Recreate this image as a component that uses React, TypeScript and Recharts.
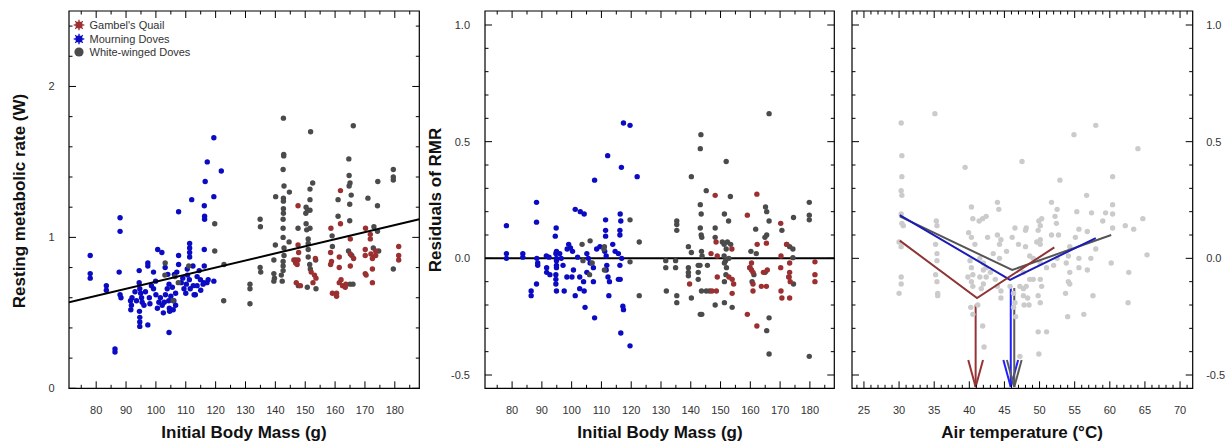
import React from "react";
import { ScatterChart, Scatter, XAxis, YAxis, ReferenceLine, ReferenceArea } from "recharts";

// ---- panel 1: resting metabolic rate (W) vs initial body mass (g)
const rmrMourning: [number, number][] = [
  [119.4, 1.66], [117.2, 1.5], [121.9, 1.44], [116.5, 1.37], [119.4, 1.27], [112.0, 1.25], [107.6, 1.17],
  [116.2, 1.21], [116.3, 1.14], [116.3, 1.12], [88.0, 1.13], [88.0, 1.04], [100.6, 0.92], [102.0, 0.9],
  [78.0, 0.88], [78.0, 0.76], [78.0, 0.73], [107.6, 0.88], [111.3, 0.96], [111.3, 0.93], [111.3, 0.9],
  [111.3, 0.87], [116.2, 0.92], [97.3, 0.83], [97.3, 0.81], [103.1, 0.8], [87.7, 0.77], [94.4, 0.78],
  [99.2, 0.77], [107.6, 0.82], [112.4, 0.81], [116.2, 0.81], [83.4, 0.68], [83.4, 0.65], [88.0, 0.62],
  [88.3, 0.6], [91.5, 0.58], [91.8, 0.55], [91.6, 0.52], [94.4, 0.7], [94.6, 0.66], [94.9, 0.63],
  [95.2, 0.6], [95.4, 0.57], [94.5, 0.51], [94.6, 0.47], [94.6, 0.44], [94.6, 0.41], [97.3, 0.42],
  [99.9, 0.71], [99.2, 0.66], [100.0, 0.62], [101.0, 0.57], [102.1, 0.55], [103.2, 0.62], [104.3, 0.58],
  [104.5, 0.53], [104.6, 0.51], [104.4, 0.37], [86.3, 0.26], [86.3, 0.24], [104.0, 0.755], [106.2, 0.755],
  [104.4, 0.69], [105.5, 0.67], [106.6, 0.63], [106.6, 0.55], [109.4, 0.66], [110.0, 0.63], [110.6, 0.75],
  [111.2, 0.72], [112.5, 0.68], [113.8, 0.74], [114.9, 0.72], [116.0, 0.7], [117.1, 0.7], [113.2, 0.62],
  [119.4, 0.71], [96.5, 0.64], [97.8, 0.6], [98.5, 0.68], [101.5, 0.6], [102.8, 0.57], [103.8, 0.66],
  [105.0, 0.61], [106.0, 0.58], [108.5, 0.7], [110.2, 0.69], [111.5, 0.66], [113.8, 0.68], [115.0, 0.65],
  [115.8, 0.69], [117.5, 0.72], [114.5, 0.78], [110.5, 0.79], [92.0, 0.6], [93.0, 0.64], [96.0, 0.55],
  [98.0, 0.56], [100.5, 0.53], [102.5, 0.5], [93.5, 0.58], [107.0, 0.77], [109.0, 0.73], [105.8, 0.52],
  [112.8, 0.62],
];
const rmrWhiteWinged: [number, number][] = [
  [119.7, 1.09], [119.7, 0.91], [103.1, 0.83], [111.0, 0.81], [122.8, 0.82], [103.0, 0.75], [106.4, 0.74],
  [107.5, 0.7], [105.8, 0.58], [122.7, 0.58], [142.7, 1.79], [166.1, 1.74], [151.8, 1.7], [142.8, 1.55],
  [142.8, 1.54], [164.6, 1.52], [142.6, 1.45], [179.5, 1.45], [179.5, 1.4], [179.5, 1.38], [164.7, 1.41],
  [165.0, 1.36], [164.7, 1.34], [152.5, 1.36], [151.6, 1.32], [142.9, 1.34], [144.7, 1.3], [140.1, 1.27],
  [174.3, 1.37], [142.7, 1.26], [142.7, 1.24], [165.4, 1.28], [161.0, 1.25], [151.6, 1.25], [164.9, 1.22],
  [171.0, 1.26], [174.2, 1.21], [142.7, 1.19], [142.7, 1.16], [150.3, 1.2], [150.8, 1.18], [150.2, 1.16],
  [151.6, 1.18], [134.9, 1.12], [135.0, 1.07], [142.6, 1.12], [142.6, 1.06], [147.6, 1.06], [150.3, 1.09],
  [150.5, 1.05], [151.6, 1.06], [161.0, 1.14], [164.9, 1.11], [173.0, 1.07], [174.2, 1.04], [142.6, 1.0],
  [140.0, 0.95], [144.6, 0.97], [159.0, 1.01], [151.0, 0.99], [151.0, 0.96], [151.0, 0.92], [151.0, 0.87],
  [142.9, 0.93], [142.9, 0.88], [142.6, 0.84], [142.6, 0.81], [142.6, 0.78], [142.0, 0.75], [139.5, 0.85],
  [146.8, 0.85], [151.5, 0.82], [151.7, 0.79], [153.5, 0.85], [159.1, 0.94], [164.5, 0.91], [165.6, 0.88],
  [172.8, 0.93], [174.6, 0.91], [179.5, 0.79], [134.9, 0.8], [135.1, 0.77], [139.5, 0.76], [139.7, 0.73],
  [139.5, 0.71], [142.3, 0.71], [147.7, 0.68], [150.7, 0.67], [153.6, 0.66], [165.0, 0.69], [166.0, 0.69],
  [131.5, 0.69], [131.5, 0.66], [131.5, 0.56],
];
const rmrQuail: [number, number][] = [
  [161.8, 1.31], [147.6, 1.21], [161.8, 1.09], [158.6, 1.06], [170.2, 1.06], [171.8, 1.02], [171.8, 0.99],
  [147.6, 0.95], [147.8, 0.9], [147.6, 0.85], [153.4, 0.86], [158.5, 0.9], [158.8, 0.84], [158.5, 0.82],
  [161.4, 0.87], [165.1, 0.99], [165.1, 0.89], [166.2, 0.86], [165.1, 0.81], [170.1, 0.92], [170.1, 0.88],
  [172.0, 0.89], [172.5, 0.86], [172.5, 0.79], [173.6, 0.91], [173.6, 0.88], [181.3, 0.94], [181.3, 0.88],
  [181.3, 0.85], [146.2, 0.85], [146.8, 0.83], [147.3, 0.82], [147.0, 0.7], [148.4, 0.68], [152.0, 0.77],
  [153.1, 0.75], [153.6, 0.73], [152.6, 0.7], [161.4, 0.8], [162.0, 0.72], [161.4, 0.7], [162.5, 0.68],
  [163.6, 0.69], [163.4, 0.67], [159.1, 0.63], [160.5, 0.63], [160.5, 0.61], [170.1, 0.76], [170.4, 0.75],
  [172.5, 0.7],
];
const rmrFit: [number, number][] = [[70.9, 0.57], [188.2, 1.12]];

// ---- panel 2: residuals of RMR vs initial body mass (g)
const resMourning: [number, number][] = [
  [117.4, 0.58], [119.6, 0.57], [112.1, 0.44], [116.7, 0.39], [122.0, 0.35], [107.7, 0.335], [88.2, 0.24],
  [88.2, 0.155], [78.1, 0.14], [101.2, 0.21], [102.9, 0.2], [104.2, 0.19], [94.8, 0.13], [94.5, 0.095],
  [111.4, 0.165], [111.4, 0.12], [111.4, 0.095], [116.3, 0.19], [116.5, 0.16], [116.2, 0.12], [116.2, 0.1],
  [99.0, 0.06], [99.6, 0.045], [98.5, 0.04], [78.1, 0.02], [78.1, 0.0], [83.6, 0.02], [83.6, 0.005],
  [88.3, 0.0], [88.6, -0.02], [88.6, -0.03], [91.5, 0.01], [92.4, 0.005], [94.9, 0.03], [94.7, 0.02],
  [94.9, 0.0], [94.9, -0.01], [94.9, -0.03], [94.9, -0.04], [96.0, 0.02], [96.5, 0.0], [97.1, -0.03],
  [91.6, -0.04], [91.6, -0.06], [92.7, -0.07], [94.7, -0.07], [94.7, -0.09], [94.7, -0.11], [94.9, -0.14],
  [97.5, -0.14], [98.4, -0.08], [100.1, -0.08], [100.6, -0.05], [101.2, -0.16], [102.7, -0.13], [104.2, -0.14],
  [102.7, -0.08], [104.0, -0.1], [105.1, -0.06], [104.5, -0.21], [107.7, -0.255], [86.4, -0.14], [86.4, -0.16],
  [88.2, -0.11], [105.1, 0.02], [105.6, 0.0], [106.2, -0.02], [107.3, -0.04], [107.3, -0.1], [108.4, 0.04],
  [109.5, 0.05], [111.1, 0.03], [111.6, 0.01], [111.8, -0.03], [111.6, -0.05], [112.2, -0.08], [112.7, -0.1],
  [112.5, -0.16], [113.8, 0.06], [114.6, 0.03], [115.7, 0.02], [116.8, 0.0], [116.2, -0.03], [115.7, -0.09],
  [116.3, -0.09], [117.2, -0.205], [117.4, -0.22], [116.5, -0.32], [119.6, -0.375], [100.3, 0.03], [102.0, 0.005],
];
const resWhiteWinged: [number, number][] = [
  [119.6, 0.165], [106.2, 0.075], [103.5, 0.06], [111.0, 0.05], [110.8, 0.04], [106.9, -0.02], [106.0, -0.07],
  [111.0, -0.05], [119.6, -0.015], [122.7, 0.07], [122.7, -0.16], [103.8, -0.01], [166.3, 0.62], [143.4, 0.53],
  [143.2, 0.47], [151.9, 0.415], [140.2, 0.35], [145.2, 0.29], [153.3, 0.265], [179.8, 0.24], [179.8, 0.185],
  [179.8, 0.165], [143.2, 0.23], [143.5, 0.19], [151.3, 0.19], [152.7, 0.16], [165.1, 0.22], [165.5, 0.2],
  [166.3, 0.16], [174.5, 0.175], [135.3, 0.16], [135.3, 0.145], [135.3, 0.12], [143.2, 0.13], [143.5, 0.1],
  [143.7, 0.09], [148.2, 0.13], [148.2, 0.09], [161.8, 0.125], [170.6, 0.12], [165.5, 0.1], [164.9, 0.09],
  [150.6, 0.07], [151.2, 0.06], [152.3, 0.07], [153.4, 0.06], [151.9, 0.04], [151.2, 0.01], [151.7, -0.01],
  [152.8, 0.0], [139.2, 0.05], [140.2, 0.025], [143.6, 0.03], [143.8, 0.01], [160.2, 0.03], [162.0, 0.02],
  [172.2, 0.06], [173.2, 0.05], [174.3, 0.04], [174.3, 0.003], [131.6, -0.01], [131.6, -0.04], [134.9, -0.01],
  [134.9, -0.04], [139.2, -0.04], [139.2, -0.06], [139.2, -0.075], [142.5, -0.03], [143.1, -0.03], [145.6, -0.03],
  [142.5, -0.06], [142.5, -0.09], [151.3, -0.02], [152.0, -0.04], [151.8, -0.07], [151.3, -0.1], [159.9, -0.04],
  [161.2, -0.07], [160.6, -0.1], [165.0, -0.06], [173.0, -0.08], [174.5, -0.11], [131.8, -0.14], [135.3, -0.16],
  [135.3, -0.19], [140.2, -0.17], [143.6, -0.14], [145.2, -0.14], [146.3, -0.14], [148.2, -0.2], [151.3, -0.19],
  [153.9, -0.21], [143.2, -0.24], [143.7, -0.24], [166.3, -0.255], [165.5, -0.31], [166.3, -0.41], [179.8, -0.42],
];
const resQuail: [number, number][] = [
  [148.2, 0.27], [162.2, 0.275], [159.0, 0.185], [170.2, 0.15], [148.5, 0.07], [162.3, 0.06], [165.4, 0.065],
  [153.8, 0.04], [146.8, 0.02], [148.9, 0.01], [172.2, 0.06], [170.3, 0.01], [181.7, -0.015], [181.7, -0.07],
  [181.7, -0.1], [160.4, -0.02], [159.8, -0.04], [160.4, -0.05], [160.9, -0.06], [164.4, -0.06], [165.7, -0.05],
  [170.2, -0.04], [173.2, -0.02], [173.2, -0.06], [172.9, -0.08], [173.4, -0.1], [148.9, -0.08], [152.8, -0.08],
  [153.9, -0.09], [154.4, -0.11], [139.6, -0.11], [147.1, -0.14], [148.6, -0.14], [153.9, -0.15], [160.9, -0.11],
  [163.7, -0.12], [165.4, -0.12], [160.9, -0.14], [170.3, -0.14], [170.6, -0.17], [173.2, -0.17], [159.0, -0.24],
  [162.2, -0.29],
];

// ---- panel 3: residuals vs air temperature (°C)
const tempResiduals: [number, number][] = [
  [35.1, 0.62], [30.3, 0.58], [30.4, 0.44], [39.4, 0.39], [30.4, 0.35], [47.5, 0.415], [30.3, 0.29], [30.4, 0.27],
  [30.3, 0.19], [30.4, 0.15], [30.6, 0.14], [30.0, 0.07], [30.3, 0.05], [30.3, -0.08], [30.3, -0.11], [30.0, -0.15],
  [35.3, 0.16], [35.4, 0.14], [35.2, 0.06], [35.4, 0.02], [35.4, -0.01], [35.2, -0.07], [35.4, -0.1], [35.5, -0.15],
  [35.5, -0.16], [40.3, 0.22], [40.5, 0.17], [41.4, 0.16], [42.4, 0.18], [41.9, 0.17], [44.0, 0.24], [44.2, 0.21],
  [39.9, 0.11], [40.3, 0.09], [40.8, 0.06], [42.6, 0.09], [44.0, 0.1], [44.5, 0.08], [44.3, 0.06], [46.5, 0.13],
  [48.0, 0.12], [46.1, 0.09], [47.0, 0.06], [48.0, 0.05], [40.1, -0.01], [40.3, -0.04], [40.5, -0.07], [39.8, -0.08],
  [40.3, -0.1], [40.5, -0.12], [41.5, 0.0], [42.0, -0.02], [42.4, -0.04], [42.0, -0.05], [41.5, -0.08], [42.4, -0.08],
  [42.0, -0.11], [41.7, -0.13], [43.4, 0.02], [44.3, 0.0], [45.3, 0.03], [43.0, -0.06], [43.7, -0.09], [44.0, -0.12],
  [44.5, -0.14], [44.5, -0.17], [45.8, -0.12], [46.3, -0.15], [47.2, -0.12], [47.7, -0.16], [48.1, -0.12],
  [40.2, -0.21], [40.5, -0.24], [41.2, -0.2], [41.9, -0.29], [42.1, -0.38], [46.5, -0.19], [46.3, -0.21],
  [46.6, -0.25], [47.8, -0.2], [48.3, -0.17], [47.2, -0.42], [58.0, 0.57], [54.9, 0.53], [64.0, 0.47],
  [52.9, 0.335], [60.4, 0.35], [51.7, 0.24], [56.7, 0.27], [52.5, 0.21], [52.2, 0.18], [52.4, 0.15], [55.3, 0.2],
  [57.4, 0.195], [59.0, 0.16], [59.4, 0.195], [60.4, 0.19], [60.4, 0.23], [62.2, 0.14], [63.4, 0.125], [64.7, 0.17],
  [65.3, 0.015], [60.4, 0.13], [50.3, 0.17], [49.9, 0.16], [50.1, 0.14], [48.1, 0.13], [49.8, 0.12], [50.1, 0.08],
  [49.6, 0.07], [50.1, 0.06], [51.7, 0.1], [52.7, 0.1], [55.6, 0.125], [56.8, 0.115], [55.1, 0.09], [54.3, 0.05],
  [54.1, 0.01], [53.8, -0.02], [55.6, 0.0], [57.3, 0.0], [58.0, 0.04], [56.8, -0.05], [60.2, -0.02], [48.6, 0.01],
  [49.1, 0.0], [50.1, -0.02], [51.0, -0.04], [52.0, -0.03], [52.5, 0.0], [47.7, -0.06], [48.6, -0.09], [50.1, -0.09],
  [47.7, -0.13], [49.1, -0.09], [50.3, -0.12], [49.8, -0.16], [50.1, -0.19], [48.5, -0.2], [54.3, -0.06],
  [54.1, -0.1], [54.3, -0.11], [53.7, -0.15], [55.6, -0.04], [62.7, -0.06], [57.6, -0.16], [62.6, -0.19],
  [56.3, -0.24], [54.0, -0.25], [49.8, -0.315], [51.0, -0.315], [49.9, -0.41],
];
const quailBreak: [number, number][] = [[30.1, 0.076], [41.1, -0.17], [52.1, 0.047]];
const mourningBreak: [number, number][] = [[30.1, 0.185], [45.8, -0.092], [58.0, 0.087]];
const whiteWingedBreak: [number, number][] = [[30.1, 0.18], [46.1, -0.05], [60.2, 0.1]];
// arrows: temperature, residual where the arrow starts, residual of the tip
const arrowTemps = [40.9, 45.9, 46.4];
const arrowStarts = [-0.198, -0.127, -0.127];
const arrowTip = -0.551;

// ---- axes
const massTicks = [75, 80, 85, 90, 95, 100, 105, 110, 115, 120, 125, 130, 135, 140, 145, 150, 155, 160, 165, 170, 175, 180, 185];
const massLabels = [80, 90, 100, 110, 120, 130, 140, 150, 160, 170, 180];
const rmrTicks = [0, 0.2, 0.4, 0.6, 0.8, 1, 1.2, 1.4, 1.6, 1.8, 2, 2.2, 2.4];
const rmrLabels = [0, 1, 2];
const resTicks = [-0.5, -0.4, -0.3, -0.2, -0.1, 0, 0.1, 0.2, 0.3, 0.4, 0.5, 0.6, 0.7, 0.8, 0.9, 1.0];
const resLabels = [-0.5, 0, 0.5, 1.0];
const tempTicks = [24, 25, 26, 27, 28, 29, 30, 31, 32, 33, 34, 35, 36, 37, 38, 39, 40, 41, 42, 43, 44, 45, 46, 47, 48, 49, 50, 51, 52, 53, 54, 55, 56, 57, 58, 59, 60, 61, 62, 63, 64, 65, 66, 67, 68, 69, 70, 71];
const tempLabels = [25, 30, 35, 40, 45, 50, 55, 60, 65, 70];

const massDomain = [70.9, 188.2];
const rmrDomain = [0, 2.5];
const resDomain = [-0.557, 1.06];
const tempDomain = [23.3, 71.8];

const FONT = '"Liberation Sans", Arial, Helvetica, sans-serif';
const QUAIL = "#9c2f2f";
const MOURNING = "#0b0bc4";
const WHITE = "#4b4b4b";
const LIGHT = "#cbcbcb";

const toXY = (arr: [number, number][]) => arr.map(([x, y]) => ({ x, y }));
const isIn = (list: number[], v: number) => list.some((m) => Math.abs(m - v) < 1e-6);

const dot = (color: string) => (p: any) => <circle cx={p.cx} cy={p.cy} r={2.7} fill={color} />;
const noDot = () => <g />;

function bottomTick(p: any, labels: number[], top: number, fmt: (v: number) => string) {
  const { x, y, payload } = p;
  const major = isIn(labels, payload.value);
  const len = major ? 7 : 3.5;
  return (
    <g>
      <line x1={x} x2={x} y1={y} y2={y - len} stroke="#000" />
      <line x1={x} x2={x} y1={top} y2={top + len} stroke="#000" />
      {major && (
        <text x={x} y={y + 26} textAnchor="middle" fontSize={11} fill="#333" fontFamily={FONT}>
          {fmt(payload.value)}
        </text>
      )}
    </g>
  );
}

function sideTick(p: any, labels: number[], other: number, side: "left" | "right", gap: number, fmt: (v: number) => string) {
  const { x, y, payload } = p;
  const major = isIn(labels, payload.value);
  const len = major ? 7 : 3.5;
  const dir = side === "left" ? 1 : -1;
  return (
    <g>
      <line x1={x} x2={x + dir * len} y1={y} y2={y} stroke="#000" />
      <line x1={other} x2={other - dir * len} y1={y} y2={y} stroke="#000" />
      {major && (
        <text
          x={x - dir * gap}
          y={y + 4}
          textAnchor={side === "left" ? "end" : "start"}
          fontSize={11}
          fill="#333"
          fontFamily={FONT}
        >
          {fmt(payload.value)}
        </text>
      )}
    </g>
  );
}

const titleStyle: React.CSSProperties = {
  position: "absolute",
  fontFamily: FONT,
  fontWeight: 700,
  fontSize: 17,
  color: "#111",
  whiteSpace: "nowrap",
  transform: "translate(-50%, -50%)",
};

const Marker = ({ color, star }: { color: string; star: boolean }) => (
  <svg width={12} height={12} style={{ display: "block", marginRight: 5 }}>
    {star &&
      [0, 45, 90, 135].map((a) => {
        const c = Math.cos((a * Math.PI) / 180) * 5.3;
        const s = Math.sin((a * Math.PI) / 180) * 5.3;
        return <line key={a} x1={6 - c} y1={6 - s} x2={6 + c} y2={6 + s} stroke={color} strokeWidth={1.3} />;
      })}
    <circle cx={6} cy={6} r={star ? 3.6 : 4.6} fill={color} />
  </svg>
);

const legendRows = [
  { name: "Gambel's Quail", color: QUAIL, star: true },
  { name: "Mourning Doves", color: MOURNING, star: true },
  { name: "White-winged Doves", color: WHITE, star: false },
];

export default function App() {
  const fmtInt = (v: number) => String(v);
  const fmtOne = (v: number) => v.toFixed(1);

  return (
    <div style={{ position: "absolute", left: 0, top: 0, width: 1231, height: 447, background: "#fff", overflow: "hidden" }}>
      {/* panel 1 */}
      <div style={{ position: "absolute", left: 0, top: 0 }}>
        <ScatterChart width={425} height={447} margin={{ top: 11, right: 5.7, bottom: 28.7, left: 29 }}>
          <XAxis
            type="number" dataKey="x" domain={massDomain} ticks={massTicks} interval={0} allowDataOverflow
            height={30} tickSize={0} tickMargin={0} axisLine={false} tickLine={false}
            tick={(p: any) => bottomTick(p, massLabels, 11, fmtInt)}
          />
          <YAxis
            type="number" dataKey="y" domain={rmrDomain} ticks={rmrTicks} interval={0} allowDataOverflow
            width={40} tickSize={0} tickMargin={0} axisLine={false} tickLine={false}
            tick={(p: any) => sideTick(p, rmrLabels, 419.3, "left", 14.5, fmtInt)}
          />
          <ReferenceArea x1={massDomain[0]} x2={massDomain[1]} y1={rmrDomain[0]} y2={rmrDomain[1]} fill="none" fillOpacity={0} stroke="#000" strokeWidth={1.2} />
          <Scatter data={toXY(rmrMourning)} shape={dot(MOURNING)} isAnimationActive={false} />
          <Scatter data={toXY(rmrWhiteWinged)} shape={dot(WHITE)} isAnimationActive={false} />
          <Scatter data={toXY(rmrQuail)} shape={dot(QUAIL)} isAnimationActive={false} />
          <Scatter data={toXY(rmrFit)} shape={noDot} line={{ stroke: "#000", strokeWidth: 2 }} isAnimationActive={false} />
        </ScatterChart>
      </div>
      {legendRows.map((r, i) => (
        <div
          key={r.name}
          style={{
            position: "absolute", left: 72.5, top: 18 + i * 13.7, height: 14, display: "flex", alignItems: "center",
            fontFamily: FONT, fontSize: 11, color: "#333", whiteSpace: "nowrap",
          }}
        >
          <Marker color={r.color} star={r.star} />
          {r.name}
        </div>
      ))}
      <div style={{ ...titleStyle, left: 244, top: 433 }}>Initial Body Mass (g)</div>
      <div style={{ ...titleStyle, left: 20, top: 201, transform: "translate(-50%, -50%) rotate(-90deg)" }}>
        Resting metabolic rate (W)
      </div>

      {/* panel 2 */}
      <div style={{ position: "absolute", left: 425, top: 0 }}>
        <ScatterChart width={415} height={447} margin={{ top: 11, right: 5.7, bottom: 28.7, left: 20 }}>
          <XAxis
            type="number" dataKey="x" domain={massDomain} ticks={massTicks} interval={0} allowDataOverflow
            height={30} tickSize={0} tickMargin={0} axisLine={false} tickLine={false}
            tick={(p: any) => bottomTick(p, massLabels, 11, fmtInt)}
          />
          <YAxis
            type="number" dataKey="y" domain={resDomain} ticks={resTicks} interval={0} allowDataOverflow
            width={40} tickSize={0} tickMargin={0} axisLine={false} tickLine={false}
            tick={(p: any) => sideTick(p, resLabels, 409.3, "left", 15, fmtOne)}
          />
          <ReferenceArea x1={massDomain[0]} x2={massDomain[1]} y1={resDomain[0]} y2={resDomain[1]} fill="none" fillOpacity={0} stroke="#000" strokeWidth={1.2} />
          <Scatter data={toXY(resMourning)} shape={dot(MOURNING)} isAnimationActive={false} />
          <Scatter data={toXY(resWhiteWinged)} shape={dot(WHITE)} isAnimationActive={false} />
          <Scatter data={toXY(resQuail)} shape={dot(QUAIL)} isAnimationActive={false} />
          <ReferenceLine y={0} stroke="#000" strokeWidth={2} />
        </ScatterChart>
      </div>
      <div style={{ ...titleStyle, left: 660, top: 433 }}>Initial Body Mass (g)</div>
      <div style={{ ...titleStyle, left: 436, top: 200, transform: "translate(-50%, -50%) rotate(-90deg)" }}>
        Residuals of RMR
      </div>

      {/* panel 3 */}
      <div style={{ position: "absolute", left: 840, top: 0 }}>
        <ScatterChart width={391} height={447} margin={{ top: 11, right: 0, bottom: 28.7, left: 12 }}>
          <XAxis
            type="number" dataKey="x" domain={tempDomain} ticks={tempTicks} interval={0} allowDataOverflow
            height={30} tickSize={0} tickMargin={0} axisLine={false} tickLine={false}
            tick={(p: any) => bottomTick(p, tempLabels, 11, fmtInt)}
          />
          <YAxis
            type="number" dataKey="y" orientation="right" domain={resDomain} ticks={resTicks} interval={0} allowDataOverflow
            width={38.3} tickSize={0} tickMargin={0} axisLine={false} tickLine={false}
            tick={(p: any) => sideTick(p, resLabels, 12, "right", 13.5, fmtOne)}
          />
          <ReferenceArea x1={tempDomain[0]} x2={tempDomain[1]} y1={resDomain[0]} y2={resDomain[1]} fill="none" fillOpacity={0} stroke="#000" strokeWidth={1.2} />
          <Scatter data={toXY(tempResiduals)} shape={dot(LIGHT)} isAnimationActive={false} />
          <Scatter data={toXY(whiteWingedBreak)} shape={noDot} line={{ stroke: "#555", strokeWidth: 2 }} isAnimationActive={false} />
          <Scatter data={toXY(mourningBreak)} shape={noDot} line={{ stroke: "#1c1cb8", strokeWidth: 2 }} isAnimationActive={false} />
          <Scatter data={toXY(quailBreak)} shape={noDot} line={{ stroke: "#8e3535", strokeWidth: 2 }} isAnimationActive={false} />
          {arrowTemps.map((t, i) => {
            const color = ["#963434", "#1f1fff", "#5a5a5a"][i];
            const w = 1.05;
            const h = 0.115;
            return (
              <React.Fragment key={t}>
                <ReferenceLine segment={[{ x: t, y: arrowStarts[i] }, { x: t, y: arrowTip }]} stroke={color} strokeWidth={2} ifOverflow="visible" />
                <ReferenceLine segment={[{ x: t - w, y: arrowTip + h }, { x: t, y: arrowTip }]} stroke={color} strokeWidth={2} ifOverflow="visible" />
                <ReferenceLine segment={[{ x: t + w, y: arrowTip + h }, { x: t, y: arrowTip }]} stroke={color} strokeWidth={2} ifOverflow="visible" />
              </React.Fragment>
            );
          })}
        </ScatterChart>
      </div>
      <div style={{ ...titleStyle, left: 1022, top: 433 }}>Air temperature (°C)</div>
    </div>
  );
}
